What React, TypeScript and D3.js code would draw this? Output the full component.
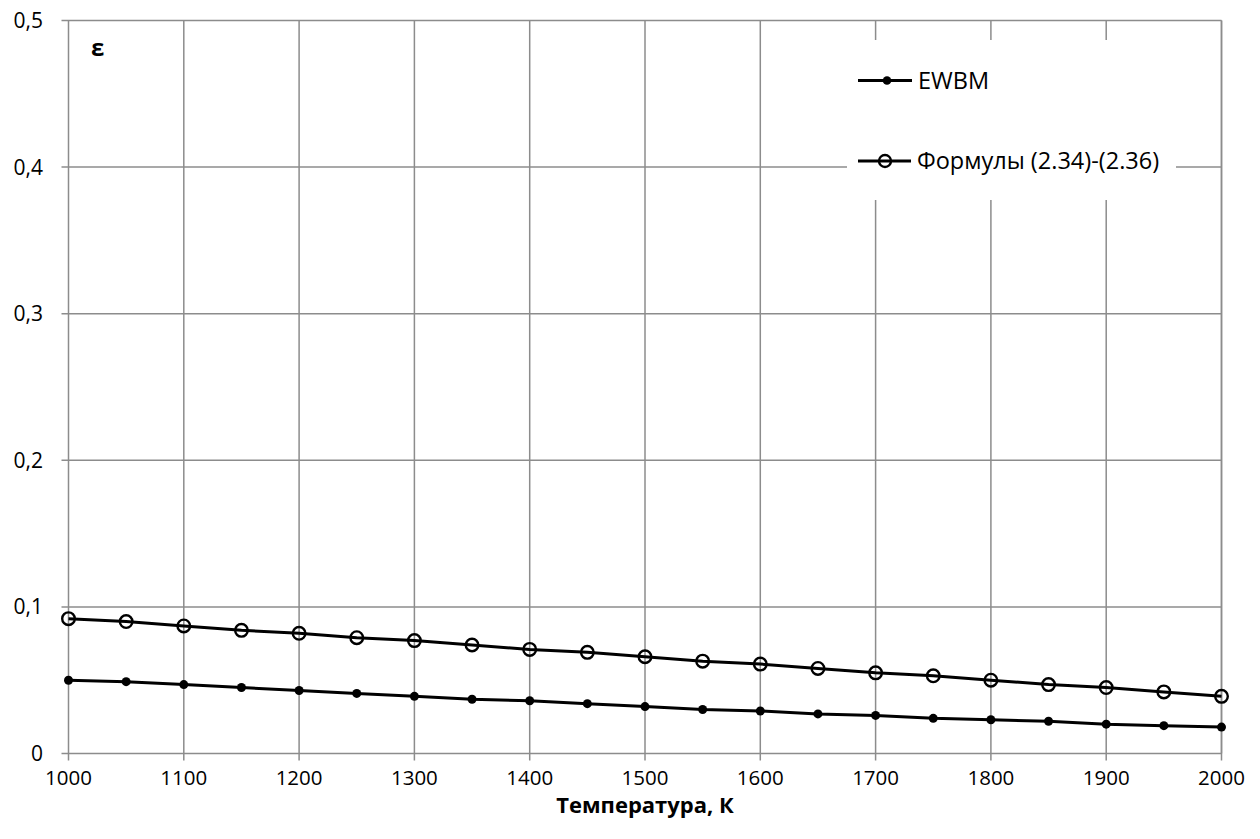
import React from "react";
import * as d3 from "d3";

const temps = [1000,1050,1100,1150,1200,1250,1300,1350,1400,1450,1500,1550,1600,1650,1700,1750,1800,1850,1900,1950,2000];
const ewbm = [0.050,0.049,0.047,0.045,0.043,0.041,0.039,0.037,0.036,0.034,0.032,0.030,0.029,0.027,0.026,0.024,0.023,0.022,0.020,0.019,0.018];
const formulas = [0.092,0.090,0.087,0.084,0.082,0.079,0.077,0.074,0.071,0.069,0.066,0.063,0.061,0.058,0.055,0.053,0.050,0.047,0.045,0.042,0.039];
const xTicks = [1000,1100,1200,1300,1400,1500,1600,1700,1800,1900,2000];
const yTicks = [0,0.1,0.2,0.3,0.4,0.5];
const yTickLabels = ["0","0,1","0,2","0,3","0,4","0,5"];
const seriesNames = ["EWBM","Формулы (2.34)-(2.36)"];

const W = 1260, H = 839;
const left = 68.5, right = 1221.5, top = 20.5, bottom = 753.5;
const FONT = "'Open Sans', 'Noto Sans', sans-serif";

export default function App() {
  const x = d3.scaleLinear().domain([1000, 2000]).range([left, right]);
  const y = d3.scaleLinear().domain([0, 0.5]).range([bottom, top]);
  const line = d3.line<number>().x((_, i) => x(temps[i])).y(d => y(d));
  const grid = "#8c8c8c";
  return (
    <div style={{ margin: -8 }}>
      <svg width={W} height={H} style={{ display: "block", background: "#fff" }}>
        {/* grid */}
        {xTicks.map(t => (
          <line key={"vx" + t} x1={x(t)} x2={x(t)} y1={top} y2={bottom + 7} stroke={grid} strokeWidth={1.5} />
        ))}
        {yTicks.map(t => (
          <line key={"hy" + t} x1={left - 7} x2={right} y1={y(t)} y2={y(t)} stroke={grid} strokeWidth={1.5} />
        ))}
        <line x1={right} x2={right} y1={top} y2={bottom} stroke={grid} strokeWidth={1.5} />
        {/* legend box (covers grid) */}
        <rect x={847} y={40} width={329} height={160} fill="#fff" />
        {/* y labels */}
        {yTicks.map((t, i) => (
          <text key={"yl" + t} x={43} y={y(t) + 7.5} textAnchor="end" fontFamily={FONT} fontSize={21} fill="#000">{yTickLabels[i]}</text>
        ))}
        {/* x labels */}
        {xTicks.map(t => (
          <text key={"xl" + t} x={x(t)} y={785} textAnchor="middle" fontFamily={FONT} fontSize={20.5} fill="#000">{t}</text>
        ))}
        <text x={645} y={813} textAnchor="middle" fontFamily={FONT} fontSize={22} fontWeight="bold" fill="#000">Температура, К</text>
        <text x={91} y={56} fontFamily={FONT} fontSize={24} fontWeight="bold" fill="#000">ε</text>
        {/* series */}
        <path d={line(ewbm) || ""} fill="none" stroke="#000" strokeWidth={3} />
        <path d={line(formulas) || ""} fill="none" stroke="#000" strokeWidth={3} />
        {ewbm.map((v, i) => (
          <circle key={"e" + i} cx={x(temps[i])} cy={y(v)} r={4.5} fill="#000" />
        ))}
        {formulas.map((v, i) => (
          <circle key={"f" + i} cx={x(temps[i])} cy={y(v)} r={6.3} fill="none" stroke="#000" strokeWidth={2.4} />
        ))}
        {/* legend */}
        <line x1={858} x2={912} y1={80.5} y2={80.5} stroke="#000" strokeWidth={3} />
        <circle cx={887} cy={80.5} r={4.3} fill="#000" />
        <text x={918} y={88.5} fontFamily={FONT} fontSize={23.5} fill="#000">{seriesNames[0]}</text>
        <line x1={858} x2={911} y1={161} y2={161} stroke="#000" strokeWidth={3} />
        <circle cx={885} cy={161} r={6} fill="none" stroke="#000" strokeWidth={2.4} />
        <text x={917} y={169} fontFamily={FONT} fontSize={23.5} fill="#000">{seriesNames[1]}</text>
      </svg>
    </div>
  );
}
